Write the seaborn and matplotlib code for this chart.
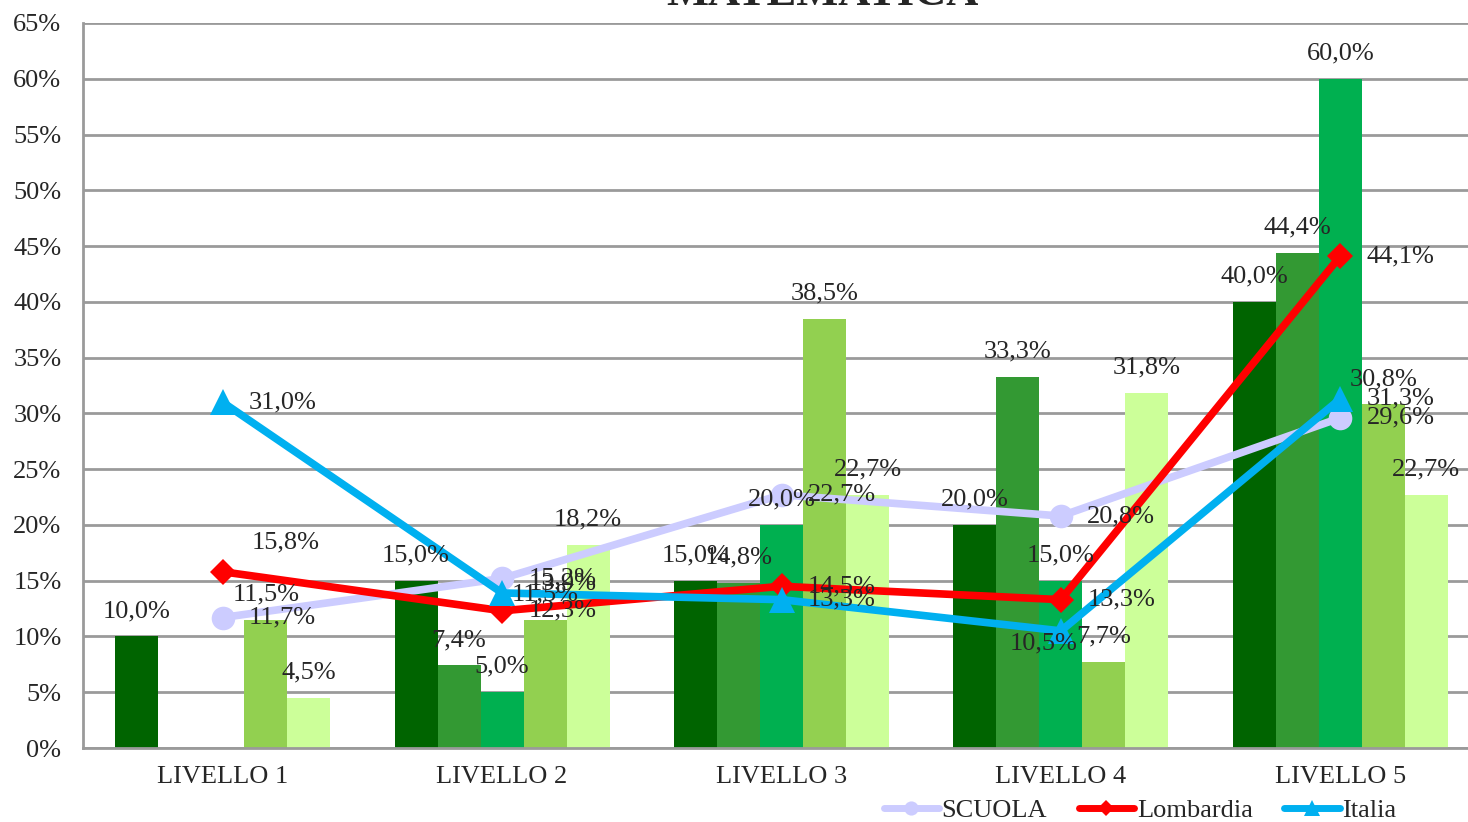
import numpy as np
import pandas as pd
import matplotlib
matplotlib.use("Agg")
import matplotlib.pyplot as plt
from matplotlib.lines import Line2D
from matplotlib.ticker import MultipleLocator, FuncFormatter
import seaborn as sns

# data (percent)
livelli = ["LIVELLO 1", "LIVELLO 2", "LIVELLO 3", "LIVELLO 4", "LIVELLO 5"]
classi = ["Classe 1", "Classe 2", "Classe 3", "Classe 4", "Classe 5"]
classe_1 = [10.0, 15.0, 15.0, 20.0, 40.0]
classe_2 = [0.0, 7.4, 14.8, 33.3, 44.4]
classe_3 = [0.0, 5.0, 20.0, 15.0, 60.0]
classe_4 = [11.5, 11.5, 38.5, 7.7, 30.8]
classe_5 = [4.5, 18.2, 22.7, 31.8, 22.7]

scuola = [11.7, 15.2, 22.7, 20.8, 29.6]
lombardia = [15.8, 12.3, 14.5, 13.3, 44.1]
italia = [31.0, 13.9, 13.3, 10.5, 31.3]

bar_colors = ["#006400", "#339933", "#00B050", "#92D050", "#CCFF99"]
grey = "#9A9A9A"

sns.set_style("white")
plt.rcParams["font.family"] = ["Liberation Serif", "DejaVu Serif"]
FS = 19

rows = []
for c, vals in zip(classi, [classe_1, classe_2, classe_3, classe_4, classe_5]):
    for l, v in zip(livelli, vals):
        rows.append({"livello": l, "classe": c, "valore": v})
df = pd.DataFrame(rows)

fig = plt.figure(figsize=(14.68, 8.22), dpi=100)
ax = fig.add_axes([83 / 1468, 74 / 822, 1397 / 1468, 725 / 822])

sns.barplot(data=df, x="livello", y="valore", hue="classe", order=livelli,
            hue_order=classi, palette=bar_colors, width=0.77, gap=0,
            saturation=1, legend=False, ax=ax, zorder=2, errorbar=None,
            linewidth=0, edgecolor="none")

def fmt(v):
    return f"{v:.1f}%".replace(".", ",")

# bar labels
for cont in ax.containers:
    for rect in cont:
        h = rect.get_height()
        if h <= 0:
            continue
        ax.annotate(fmt(h), (rect.get_x() + rect.get_width() / 2, h),
                    xytext=(0, 14), textcoords="offset points",
                    ha="center", va="baseline", fontsize=FS, zorder=6)

# lines
x = np.arange(len(livelli))
line_specs = [
    ("SCUOLA", scuola, "#CCCCFF", "o", 17),
    ("Lombardia", lombardia, "#FF0000", "D", 13),
    ("Italia", italia, "#00B0F0", "^", 19),
]
# label offsets (points) that differ from the default "right" position
special = {("Lombardia", 0): (21, 21), ("Italia", 3): (-37, -9), ("Italia", 1): (19, 7)}
for z, (name, vals, col, mk, ms) in enumerate(line_specs):
    sns.lineplot(x=x, y=vals, color=col, linewidth=5.5, marker=mk,
                 markersize=ms, markeredgewidth=0, ax=ax, zorder=4 + z * 0.1)
    for i, v in enumerate(vals):
        dx, dy = special.get((name, i), (19, 0))
        ax.annotate(fmt(v), (i, v), xytext=(dx, dy), textcoords="offset points",
                    ha="left", va="center", fontsize=FS, zorder=6)

# axes styling
ax.set_xlim(-0.5, 4.5)
ax.set_ylim(0, 65)
ax.yaxis.set_major_locator(MultipleLocator(5))
ax.yaxis.set_major_formatter(FuncFormatter(lambda v, p: f"{v:.0f}%"))
ax.grid(axis="y", color=grey, linewidth=2, zorder=0)
ax.set_axisbelow(True)
for s in ["top", "right"]:
    ax.spines[s].set_visible(False)
for s in ["left", "bottom"]:
    ax.spines[s].set_color(grey)
    ax.spines[s].set_linewidth(2)
ax.set_xlabel("")
ax.set_ylabel("")
ax.tick_params(axis="y", length=4.5, width=1.5, color=grey, pad=11, labelsize=FS)
ax.tick_params(axis="x", which="major", length=0, pad=13, labelsize=FS)
ax.set_xticks(np.arange(-0.5, 4.6, 1.0), minor=True)
ax.tick_params(axis="x", which="minor", length=5, width=1.5, color=grey)

fig.text(822 / 1468, 1 - 5 / 822, "MATEMATICA", ha="center", va="baseline",
         fontsize=32, fontweight="bold")

handles = [Line2D([], [], color=c, lw=5, marker=m, markersize=ms * 0.6,
                  markeredgewidth=0) for _, _, c, m, ms in line_specs]
leg = fig.legend(handles, [s[0] for s in line_specs], loc="center",
                 bbox_to_anchor=(1140 / 1468, 12 / 822), ncol=3, fontsize=FS,
                 handlelength=2.1, handletextpad=0.1, columnspacing=1.2,
                 frameon=True, facecolor="white", edgecolor="none",
                 framealpha=1, borderpad=0.1)

fig.savefig("out.png", dpi=100)
